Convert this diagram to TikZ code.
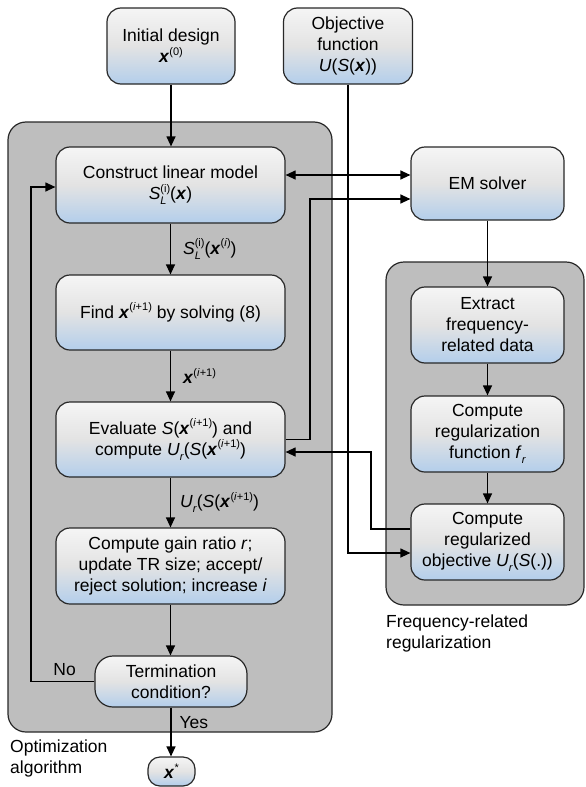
\documentclass[tikz,border=0pt]{standalone}
\usepackage{fontspec}
\setmainfont{Liberation Sans}
\usetikzlibrary{arrows.meta}
\definecolor{boxtop}{HTML}{F5F5F5}
\definecolor{boxmid}{HTML}{E3E3E3}
\definecolor{boxbot}{HTML}{B3CEEB}
\definecolor{panelgray}{HTML}{BEBEBE}
\definecolor{edgegray}{HTML}{282828}
\newcommand\bx{\textbf{\textit{x}}}
\newcommand\sups[1]{\raisebox{0.42em}{\fontsize{11}{11}\selectfont #1}}
\newcommand\subs[1]{\raisebox{-0.28em}{\fontsize{11}{11}\selectfont #1}}
\newcommand\SL{\textit{S}\rlap{\subs{\textit{L}}}\sups{(i)}}
\newcommand\Ur{\textit{U}\subs{\textit{r}}}
\tikzset{
  proc/.style={draw=edgegray, line width=1.2pt, rounded corners=14pt,
    top color=boxtop, bottom color=boxbot, middle color=boxmid,
    align=center, inner sep=0pt},
  panelbox/.style={draw=edgegray, line width=1.2pt, rounded corners=18pt,
    fill=panelgray, inner sep=0pt},
  conn/.style={draw=black, line width=1.2pt},
  lbl/.style={inner sep=0pt, anchor=west}
}
\begin{document}
\begin{tikzpicture}[x=1pt,y=-1pt, font=\fontsize{17.5}{21}\selectfont,
  >={Triangle[length=10pt,width=9pt]}]
\useasboundingbox (0,0) rectangle (586,787);
% panels
\node[panelbox, minimum width=324, minimum height=610] (optpanel) at (170,427) {};
\node[panelbox, minimum width=198, minimum height=343] (freqpanel) at (485,433.5) {};
% boxes
\node[proc, minimum width=128, minimum height=76] (init) at (171,46) {Initial design\\\bx\sups{(0)}};
\node[proc, minimum width=129, minimum height=76] (obj) at (348,46) {Objective\\function\\\textit{U}(\textit{S}(\bx))};
\node[proc, minimum width=229, minimum height=76] (construct) at (170.5,185) {Construct linear model\\\SL(\bx)};
\node[proc, minimum width=229, minimum height=75] (find) at (170.5,312.5) {Find \bx\sups{(\textit{i}+1)} by solving (8)};
\node[proc, minimum width=229, minimum height=75] (eval) at (170.5,439.5) {Evaluate \textit{S}(\bx\sups{(\textit{i}+1)}) and\\compute \Ur(\textit{S}(\bx\sups{(\textit{i}+1)})};
\node[proc, minimum width=229, minimum height=76] (gain) at (170.5,566) {Compute gain ratio \textit{r};\\update TR size; accept/\\reject solution; increase \textit{i}};
\node[proc, rounded corners=18pt, minimum width=152, minimum height=51] (term) at (171,681.5) {Termination\\condition?};
\node[proc, rounded corners=12pt, minimum width=47, minimum height=29] (xstar) at (171.5,771.5) {\bx\sups{*}};
\node[proc, minimum width=153, minimum height=73] (em) at (487.5,183.5) {EM solver};
\node[proc, minimum width=153, minimum height=76] (extract) at (487.5,325) {Extract\\frequency-\\related data};
\node[proc, minimum width=153, minimum height=76] (regfun) at (487.5,434) {Compute\\regularization\\function \textit{f}\subs{\textit{r}}};
\node[proc, minimum width=153, minimum height=76] (regobj) at (487.5,542) {Compute\\regularized\\objective \Ur(\textit{S}(.))};
% panel captions
\node[align=left, inner sep=0pt, anchor=west] (optlbl) at (10,758) {Optimization\\algorithm};
\node[align=left, inner sep=0pt, anchor=west] (freqlbl) at (386,633) {Frequency-related\\regularization};
% helper coordinates
\coordinate (loopx) at (31,187);
\coordinate (upx) at (310,199);
\coordinate (backx) at (371,452);
% connectors
\draw[conn,->] (init.south) -- (init.south |- construct.north);
\draw[conn,->] (construct) -- node[lbl, xshift=12pt]{\SL(\bx\sups{(\textit{i})})} (find);
\draw[conn,->] (find) -- node[lbl, xshift=12pt]{\bx\sups{(\textit{i}+1)}} (eval);
\draw[conn,->] (eval) -- node[lbl, xshift=9pt]{\Ur(\textit{S}(\bx\sups{(\textit{i}+1)})} (gain);
\draw[conn,->] (gain) -- (gain.south |- term.north);
\draw[conn,->] (term.south) -- node[lbl, pos=0.3, xshift=8pt]{Yes} (term.south |- xstar.north);
\draw[conn,->] (term.west) -- node[above, pos=0.47, inner sep=5pt]{No} (term.west -| loopx) -- (loopx) -- (loopx -| construct.west);
\draw[conn,<->] ([yshift=10pt]construct.east) -- ([yshift=10pt]construct.east -| em.west);
\draw[conn,->] (eval.east) -| (upx) -- (upx -| em.west);
\draw[conn,->] (em) -- (extract);
\draw[conn,->] (extract) -- (regfun);
\draw[conn,->] (regfun) -- (regobj);
\draw[conn,->] (obj.south) |- ([yshift=-11pt]regobj.west);
\draw[conn,->] ([yshift=13pt]regobj.west) -| (backx) -- (backx -| eval.east);
\end{tikzpicture}
\end{document}
